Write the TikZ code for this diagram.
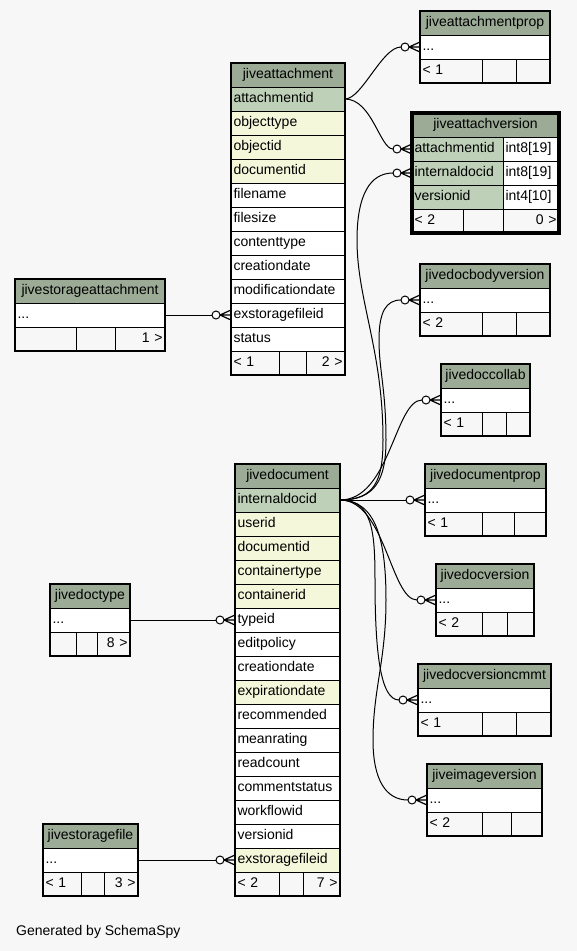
\documentclass[tikz,border=0pt]{standalone}
\usepackage{fontspec}
\setmainfont{Liberation Sans}
\usepackage{tikz}
\usetikzlibrary{calc}
\definecolor{schemabg}{HTML}{F7F7F7}
\definecolor{schemahead}{HTML}{9BAB96}
\definecolor{schemapk}{HTML}{BED1B8}
\definecolor{schemaidx}{HTML}{F4F7DA}

\tikzset{
  cell/.style={draw=black, line width=1pt, anchor=north west, outer sep=0pt,
    inner xsep=2.5pt, inner ysep=0pt, minimum height=24pt,
    /utils/exec={\pgfmathsetmacro\cellw{#1-5}}, text width=\cellw pt,
    align=left, text height=10pt, text depth=3pt, fill=white,
    font=\fontsize{14}{16}\selectfont},
  headcell/.style={cell=#1, fill=schemahead, align=center},
  footcell/.style={cell=#1, fill=schemabg},
  footcellr/.style={cell=#1, fill=schemabg, align=right},
  tableframe/.style={draw=black, line width=2pt},
  fk/.style={draw=black, line width=1pt},
}

% small table: prefix, title, x, y, width, foot1 width, foot2 width, foot1 text, foot3 text
\newcommand{\stubtable}[9]{%
  \node[headcell=#5] (#1-head) at (#3,#4) {#2};
  \node[cell=#5] (#1-dots) at (#3,#4+24) {...};
  \node[footcell=#6] (#1-f1) at (#3,#4+48) {#8};
  \node[footcell=#7] (#1-f2) at (#3+#6,#4+48) {};
  \node[footcellr=#5-#6-#7] (#1-f3) at (#3+#6+#7,#4+48) {#9};
  \draw[tableframe] (#1-head.north west) rectangle (#1-f3.south east);
}

% crow's foot with open circle in front of a column cell
\newcommand{\crowfoot}[1]{%
  \draw[line width=1.2pt] ($(#1.west)+(-11,0)$) -- ($(#1.west)+(0,-5)$)
    ($(#1.west)+(-11,0)$) -- (#1.west)
    ($(#1.west)+(-11,0)$) -- ($(#1.west)+(0,5)$);
  \draw[line width=1pt, fill=white] ($(#1.west)+(-15,0)$) circle (4pt);
  \coordinate (#1-in) at ($(#1.west)+(-19,0)$);
}

\begin{document}
\begin{tikzpicture}[x=1pt, y=-1pt]
  % canvas
  \fill[schemabg] (0,0) rectangle (577,951);
  \useasboundingbox (0,0) rectangle (577,951);

  % jiveattachment
  \node[headcell=114] (att-head) at (231,63) {jiveattachment};
  \foreach \colname/\shade [count=\i from 0] in {attachmentid/schemapk,
      objecttype/schemaidx, objectid/schemaidx, documentid/schemaidx,
      filename/white, filesize/white, contenttype/white, creationdate/white,
      modificationdate/white, exstoragefileid/white, status/white}
    \node[cell=114, fill=\shade] (att-\colname) at (231,87+24*\i) {\colname};
  \node[footcell=48] (att-f1) at (231,351) {< 1};
  \node[footcell=27] (att-f2) at (279,351) {};
  \node[footcellr=39] (att-f3) at (306,351) {2 >};
  \draw[tableframe] (att-head.north west) rectangle (att-f3.south east);

  % jiveattachversion (focus table)
  \node[headcell=147] (attver-head) at (412,113) {jiveattachversion};
  \foreach \colname/\coltype [count=\i from 0] in {attachmentid/int8[19],
      internaldocid/int8[19], versionid/int4[10]} {
    \node[cell=91, fill=schemapk] (attver-\colname) at (412,137+24*\i) {\colname};
    \node[cell=56] (attver-\colname-type) at (503,137+24*\i) {\coltype};
  }
  \node[footcell=51] (attver-f1) at (412,209) {< 2};
  \node[footcell=40] (attver-f2) at (463,209) {};
  \node[footcellr=56] (attver-f3) at (503,209) {0 >};
  \draw[tableframe, line width=3.5pt] (attver-head.north west) rectangle (attver-f3.south east);

  % jivedocument
  \node[headcell=105] (doc-head) at (235,464) {jivedocument};
  \foreach \colname/\shade [count=\i from 0] in {internaldocid/schemapk,
      userid/schemaidx, documentid/schemaidx, containertype/schemaidx,
      containerid/schemaidx, typeid/white, editpolicy/white, creationdate/white,
      expirationdate/schemaidx, recommended/white, meanrating/white,
      readcount/white, commentstatus/white, workflowid/white, versionid/white,
      exstoragefileid/schemaidx}
    \node[cell=105, fill=\shade] (doc-\colname) at (235,488+24*\i) {\colname};
  \node[footcell=44] (doc-f1) at (235,872) {< 2};
  \node[footcell=24] (doc-f2) at (279,872) {};
  \node[footcellr=37] (doc-f3) at (303,872) {7 >};
  \draw[tableframe] (doc-head.north west) rectangle (doc-f3.south east);

  % collapsed tables
  \stubtable{attprop}{jiveattachmentprop}{420}{11}{130}{62}{34}{< 1}{}
  \stubtable{stattach}{jivestorageattachment}{15}{279}{150}{61}{39}{}{1 >}
  \stubtable{bodyver}{jivedocbodyversion}{420}{264}{130}{62}{34}{< 2}{}
  \stubtable{collab}{jivedoccollab}{441}{364}{89}{41}{24}{< 1}{}
  \stubtable{docprop}{jivedocumentprop}{425}{464}{121}{57}{32}{< 1}{}
  \stubtable{doctype}{jivedoctype}{50}{584}{80}{26}{21}{}{8 >}
  \stubtable{docver}{jivedocversion}{436}{564}{98}{46}{25}{< 2}{}
  \stubtable{cmmt}{jivedocversioncmmt}{418}{664}{133}{64}{34}{< 1}{}
  \stubtable{imgver}{jiveimageversion}{427}{764}{115}{55}{29}{< 2}{}
  \stubtable{stfile}{jivestoragefile}{43}{824}{95}{38}{23}{< 1}{3 >}

  % crow's feet at the child columns
  \foreach \target in {attprop-dots, attver-attachmentid, attver-internaldocid,
      bodyver-dots, collab-dots, docprop-dots, docver-dots, cmmt-dots,
      imgver-dots, att-exstoragefileid, doc-typeid, doc-exstoragefileid}
    \crowfoot{\target};

  % foreign keys from jiveattachment
  \draw[fk] (att-attachmentid.east) .. controls +(17,0) and +(-19,0) .. (attprop-dots-in);
  \draw[fk] (att-attachmentid.east) .. controls +(27,0) and +(-13,0) .. (attver-attachmentid-in);
  % foreign keys from jivedocument
  \draw[fk] (doc-internaldocid.east) .. controls +(35,0) and (383,480) .. (383,440)
    .. controls (383,350) and (357,300) .. (357,240)
    .. controls (357,195) and (370,173) .. (attver-internaldocid-in);
  \draw[fk] (doc-internaldocid.east) .. controls +(35,0) and (386,480) .. (386,440)
    .. controls (386,390) and (379,370) .. (379,340)
    .. controls (379,312) and (386,300) .. (bodyver-dots-in);
  \draw[fk] (doc-internaldocid.east) .. controls +(50,0) and +(-27,0) .. (collab-dots-in);
  \draw[fk] (doc-internaldocid.east) -- (docprop-dots-in);
  \draw[fk] (doc-internaldocid.east) .. controls +(45,0) and +(-26,0) .. (docver-dots-in);
  \draw[fk] (doc-internaldocid.east) .. controls +(32,0) and (375,530) .. (375,580)
    .. controls (375,650) and (380,700) .. (cmmt-dots-in);
  \draw[fk] (doc-internaldocid.east) .. controls +(36,0) and (386,540) .. (386,600)
    .. controls (386,660) and (373,690) .. (373,740)
    .. controls (373,780) and (386,800) .. (imgver-dots-in);
  % foreign keys into the big tables
  \draw[fk] (stattach-dots.east) -- (att-exstoragefileid-in);
  \draw[fk] (doctype-dots.east) -- (doc-typeid-in);
  \draw[fk] (stfile-dots.east) -- (doc-exstoragefileid-in);

  \node[anchor=base west, inner sep=0pt, font=\fontsize{14}{16}\selectfont]
    (credit) at (16,935) {Generated by SchemaSpy};
\end{tikzpicture}
\end{document}
